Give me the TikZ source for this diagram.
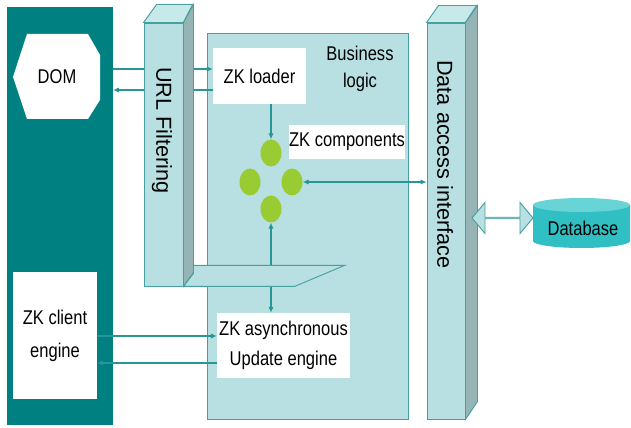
\documentclass[tikz,border=0pt]{standalone}
\usepackage{fontspec}
\newfontfamily\diagfont{Liberation Sans}[FakeStretch=0.83]
\newfontfamily\pillarfont{Liberation Sans}
\usetikzlibrary{fit,arrows.meta,shapes.geometric,shapes.arrows}
\definecolor{darkteal}{RGB}{0,128,128}
\definecolor{paleteal}{RGB}{184,224,226}
\definecolor{topteal}{RGB}{200,233,234}
\definecolor{sideteal}{RGB}{150,180,182}
\definecolor{edgeteal}{RGB}{70,160,160}
\definecolor{linkteal}{RGB}{38,150,150}
\definecolor{leafgreen}{RGB}{153,204,51}
\definecolor{dbteal}{RGB}{48,192,196}
\definecolor{dbtop}{RGB}{105,212,214}

\begin{document}
\begin{tikzpicture}[x=0.03cm,y=-0.03cm,
    txt/.style={font=\fontsize{17}{23}\diagfont, align=center},
    whitebox/.style={txt, fill=white, inner sep=0pt},
    panel/.style={fill=paleteal, draw=edgeteal, line width=0.8pt, inner sep=0pt},
    pillartop/.style={fill=topteal, draw=edgeteal, line width=0.8pt},
    pillarside/.style={fill=sideteal, draw=edgeteal, line width=0.8pt},
    pillarlabel/.style={font=\fontsize{18.5}{22}\pillarfont, rotate=-90, anchor=west, inner sep=0pt},
    leaf/.style={ellipse, fill=leafgreen, inner sep=0pt, minimum width=0.63cm, minimum height=0.81cm},
    link/.style={draw=linkteal, line width=0.9pt, >={Latex[length=5pt,width=4.5pt]}}]

    \useasboundingbox (0,0) rectangle (631,428);

    % client side
    \node[fit={(7,7) (113,425)}, inner sep=0pt, fill=darkteal] (browser) {};
    \fill[white] (13,77) -- (27,34) -- (88,34) -- (100,55) -- (100,100) -- (88,119) -- (27,119) -- cycle;
    \node[txt] (dom) at (57,77) {DOM};
    \node[whitebox, minimum width=2.52cm, minimum height=3.81cm, font=\fontsize{17}{28}\diagfont] (client) at (55,335.5) {ZK client\\engine};

    % server side
    \node[panel, fit={(207,33) (408,419)}] (logic) {};
    \node[txt] (bltext) at (360,69) {Business\\logic};
    \node[whitebox, minimum width=2.79cm, minimum height=1.68cm] (loader) at (259.5,76) {\raisebox{-3pt}{ZK loader}};
    \node[whitebox, minimum width=3.3cm, minimum height=1.02cm] (comps) at (347,142) {ZK components};
    \node[whitebox, minimum width=3.99cm, minimum height=1.95cm] (async) at (283.5,345.5) {\raisebox{-6pt}{\shortstack{ZK asynchronous\\[7pt]Update engine}}};
    \foreach \n/\px/\py in {cn/271/153,cw/250/182,ce/292/182,cs/271/209} \node[leaf] (\n) at (\px,\py) {};

    \coordinate (req) at (113,69);
    \coordinate (resp) at (113,90);
    \coordinate (push) at (97,336);
    \coordinate (pull) at (97,363);
    \draw[link,->] (req) -- (req -| loader.west);
    \draw[link,<-] (resp) -- (resp -| loader.west);
    \draw[link,->] (cn |- loader.south) -- (cn.north);
    \draw[link,->] (push) -- (push -| async.west);
    \draw[link,<-] (pull) -- (pull -| async.west);
    \draw[link,<->] (cs.south) -- (cs |- async.north);

    % url filtering
    \node[panel, fit={(144,23) (183,286)}] (url) {};
    \filldraw[pillartop] (url.north west) -- ++(13,-18) -- ++(36,0) -- (url.north east) -- cycle;
    \filldraw[pillarside] (url.north east) -- ++(10,-18) -- ++(0,268) -- (url.south east) -- cycle;
    \filldraw[panel] (url.south east) -- ++(10,-13) -- ++(0,-8) -- ++(151,0) -- ++(-50,21) -- cycle;
    \node[pillarlabel] (urltext) at (162,67) {URL Filtering};

    % data access
    \node[panel, fit={(427,23) (465,419)}] (dai) {};
    \filldraw[pillartop] (dai.north west) -- ++(12,-17) -- ++(38,0) -- (dai.north east) -- cycle;
    \filldraw[pillarside] (dai.north east) -- ++(12,-17) -- ++(0,396) -- (dai.south east) -- cycle;
    \node[pillarlabel] (daitext) at (445,60) {Data access interface};
    \draw[link,<->] (ce.east) -- (ce.east -| dai.west);

    % database
    \node[double arrow, fill=paleteal, draw=edgeteal, line width=0.8pt, inner sep=0pt,
          minimum height=1.83cm, minimum width=0.93cm, double arrow head extend=0.27cm,
          double arrow tip angle=100] (dbarrow) at (502.5,218) {};
    \fill[dbteal] (533,205) -- (533,241) arc[start angle=180, end angle=360, x radius=1.455cm, y radius=0.21cm] -- (630,205) -- cycle;
    \fill[dbtop] (581.5,205) ellipse[x radius=1.455cm, y radius=0.21cm];
    \node[txt] (db) at (583,228) {Database};

\end{tikzpicture}
\end{document}
